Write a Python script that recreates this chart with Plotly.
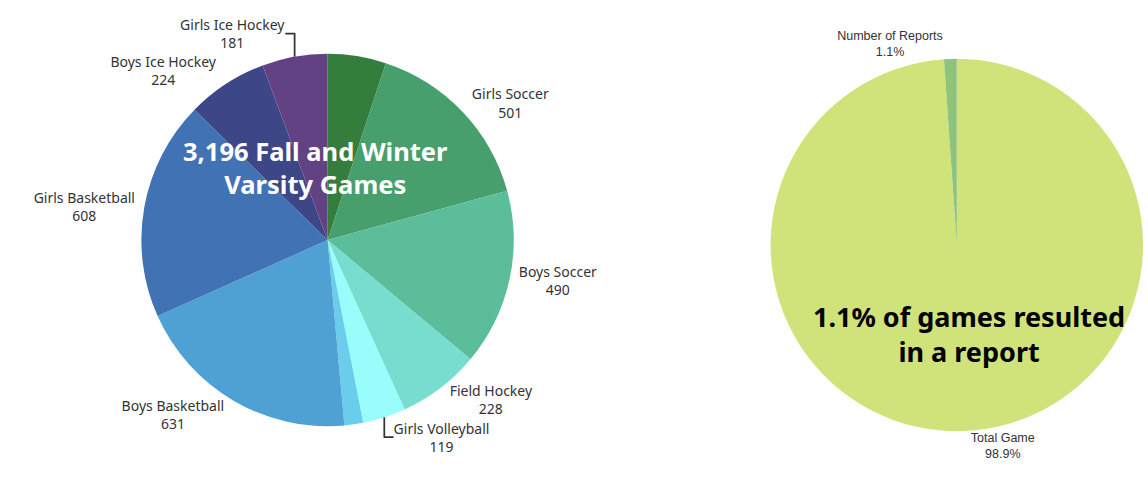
import plotly.graph_objects as go

# Left pie: fall and winter varsity games by sport
sports = ["Football", "Girls Soccer", "Boys Soccer", "Field Hockey", "Girls Volleyball",
          "Boys Volleyball", "Boys Basketball", "Girls Basketball", "Boys Ice Hockey",
          "Girls Ice Hockey"]
games = [162, 501, 490, 228, 119, 52, 631, 608, 224, 181]
show_label = [False, True, True, True, True, False, True, True, True, True]
sport_colors = ["#357D3D", "#479F6D", "#5BBD9A", "#77DDCF", "#99FDFC",
                "#6ACDEC", "#4FA1D3", "#4172B3", "#3D4788", "#634283"]

# Right pie: share of games resulting in a report
report_labels = ["Total Game", "Number of Reports"]
report_values = [98.9, 1.1]
report_colors = ["#D0E27A", "#8DC47A"]

W, H = 1148, 477

def dom(cx, cy, r):
    return dict(x=[max(0, (cx - r) / W), min(1, (cx + r) / W)],
                y=[1 - (cy + r) / H, 1 - (cy - r) / H])

fig = go.Figure()

fig.add_trace(go.Pie(
    labels=sports, values=games, sort=False, direction="clockwise", rotation=0,
    marker=dict(colors=sport_colors, line=dict(width=0)),
    texttemplate=["%{label}<br>%{value}" if s else "" for s in show_label],
    textposition="outside",
    textfont=dict(family="Noto Sans", size=14, color="#333333"),
    domain=dom(329, 240, 187),
    showlegend=False, hoverinfo="label+value",
))

fig.add_trace(go.Pie(
    labels=report_labels, values=report_values, sort=False, direction="clockwise", rotation=0,
    marker=dict(colors=report_colors, line=dict(width=0)),
    texttemplate="%{label}<br>%{percent:.1%}",
    textposition="outside",
    textfont=dict(family="Liberation Sans, Arial", size=12.5, color="#333333"),
    domain=dom(961, 245, 187),
    showlegend=False, hoverinfo="label+percent",
))

fig.add_annotation(
    x=317 / W, y=1 - 168 / H, xref="paper", yref="paper", showarrow=False,
    xanchor="center", yanchor="middle",
    text="3,196 Fall and Winter<br>Varsity Games",
    font=dict(family="Noto Sans", size=25.5, color="white", weight="bold"),
    align="center",
)
fig.add_annotation(
    x=973 / W, y=1 - 334 / H, xref="paper", yref="paper", showarrow=False,
    xanchor="center", yanchor="middle",
    text="1.1% of games resulted<br>in a report",
    font=dict(family="Noto Sans", size=27, color="black", weight="bold"),
    align="center",
)

fig.update_layout(
    width=W, height=H, margin=dict(l=0, r=0, t=0, b=0),
    paper_bgcolor="white", plot_bgcolor="white",
)

fig.write_html(
    "out.html",
    config={"displayModeBar": False},
    post_script="document.body.style.margin='0';document.body.style.overflow='hidden';",
)
